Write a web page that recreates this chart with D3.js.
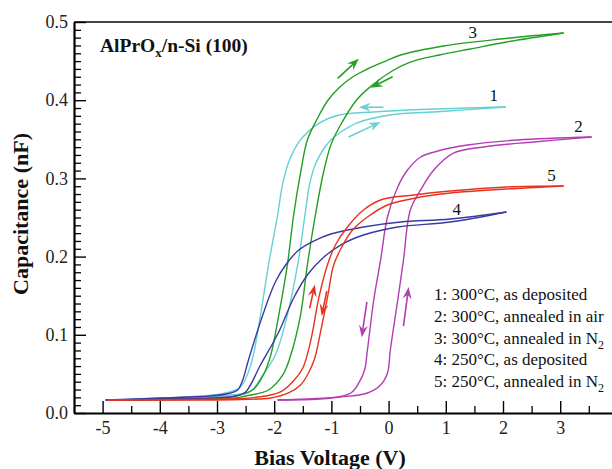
<!DOCTYPE html>
<html><head><meta charset="utf-8">
<script src="https://cdn.jsdelivr.net/npm/d3@7"></script>
<style>html,body{margin:0;padding:0;background:#fff;overflow:hidden}</style>
</head><body><svg id="chart" width="612" height="469"></svg>
<script>
// ---------- data ----------
const xTicks = [-5, -4, -3, -2, -1, 0, 1, 2, 3, 4];
const xTickLabels = ["-5", "-4", "-3", "-2", "-1", "0", "1", "2", "3", "4"];
const yTicks = [0, 0.1, 0.2, 0.3, 0.4, 0.5];
const yTickLabels = ["0.0", "0.1", "0.2", "0.3", "0.4", "0.5"];

const seriesIds = ["1", "2", "3", "4", "5"];
const legendMain = ["1: 300°C, as deposited", "2: 300°C, annealed in air", "3: 300°C, annealed in N", "4: 250°C, as deposited", "5: 250°C, annealed in N"];
const legendSub = ["", "", "2", "", "2"];

// Capacitance (nF) vs bias (V); each sample is measured as two sweep branches
const s1BranchA = [[-4.72,0.0166],[-3.99,0.0192],[-3.29,0.0217],[-2.85,0.0256],[-2.59,0.0332],[-2.41,0.0614],[-2.24,0.1253],[-2.10,0.1893],[-1.94,0.2532],[-1.86,0.2900],[-1.76,0.3180],[-1.64,0.3380],[-1.50,0.3529],[-1.21,0.3708],[-0.86,0.3811],[-0.26,0.3849],[0.56,0.3881],[2.05,0.3913]];
const s1BranchB = [[-4.72,0.0166],[-3.64,0.0192],[-2.76,0.0230],[-2.41,0.0281],[-2.20,0.0486],[-1.98,0.0742],[-1.77,0.1253],[-1.59,0.1893],[-1.45,0.2596],[-1.38,0.2930],[-1.28,0.3180],[-1.15,0.3360],[-1.01,0.3491],[-0.86,0.3581],[-0.56,0.3708],[0.02,0.3811],[0.91,0.3855],[2.05,0.3913]];

const s2BranchA = [[-1.94,0.0166],[-1.01,0.0192],[-0.66,0.0256],[-0.52,0.0384],[-0.42,0.0550],[-0.37,0.0806],[-0.26,0.1445],[-0.14,0.1957],[-0.02,0.2506],[0.16,0.2890],[0.33,0.3107],[0.56,0.3274],[0.86,0.3350],[1.38,0.3427],[2.26,0.3491],[3.55,0.3529]];
const s2BranchB = [[-1.94,0.0166],[-0.84,0.0205],[-0.37,0.0256],[-0.14,0.0358],[-0.02,0.0512],[0.03,0.0806],[0.16,0.1445],[0.26,0.1957],[0.38,0.2596],[0.56,0.2852],[0.79,0.3107],[1.14,0.3325],[1.66,0.3402],[2.53,0.3466],[3.55,0.3529]];

const s3BranchA = [[-4.74,0.0166],[-3.64,0.0179],[-2.76,0.0205],[-2.38,0.0294],[-2.19,0.0486],[-2.06,0.0742],[-1.92,0.1253],[-1.77,0.1893],[-1.66,0.2532],[-1.54,0.3069],[-1.42,0.3491],[-1.24,0.3772],[-1.07,0.3990],[-0.87,0.4156],[-0.63,0.4297],[-0.37,0.4399],[-0.05,0.4501],[0.21,0.4578],[0.96,0.4693],[1.96,0.4783],[3.06,0.4859]];
const s3BranchB = [[-4.74,0.0166],[-3.64,0.0173],[-2.76,0.0185],[-2.50,0.0217],[-2.10,0.0294],[-1.85,0.0486],[-1.71,0.0742],[-1.54,0.1253],[-1.42,0.1893],[-1.28,0.2532],[-1.14,0.3069],[-1.01,0.3427],[-0.86,0.3657],[-0.56,0.4003],[-0.26,0.4207],[0.09,0.4386],[0.38,0.4488],[0.89,0.4578],[1.43,0.4655],[2.06,0.4744],[3.06,0.4859]];

const s4BranchA = [[-4.95,0.0166],[-3.99,0.0192],[-3.11,0.0217],[-2.76,0.0256],[-2.64,0.0294],[-2.55,0.0422],[-2.45,0.0678],[-2.20,0.1253],[-1.98,0.1675],[-1.80,0.1893],[-1.57,0.2084],[-1.31,0.2199],[-1.01,0.2289],[-0.44,0.2379],[0.21,0.2442],[1.08,0.2481],[2.06,0.2570]];
const s4BranchB = [[-4.95,0.0166],[-3.99,0.0179],[-3.11,0.0192],[-2.67,0.0217],[-2.50,0.0269],[-2.24,0.0614],[-1.92,0.1036],[-1.66,0.1471],[-1.42,0.1765],[-1.15,0.1982],[-0.84,0.2148],[-0.44,0.2276],[0.16,0.2379],[1.08,0.2442],[2.06,0.2570]];

const s5BranchA = [[-4.91,0.0166],[-3.64,0.0173],[-2.59,0.0185],[-2.15,0.0217],[-1.89,0.0269],[-1.68,0.0396],[-1.50,0.0575],[-1.40,0.0806],[-1.33,0.1036],[-1.22,0.1471],[-1.07,0.1893],[-0.93,0.2148],[-0.72,0.2379],[-0.44,0.2596],[-0.14,0.2724],[0.44,0.2788],[1.08,0.2839],[2.06,0.2890],[3.06,0.2903]];
const s5BranchB = [[-4.91,0.0166],[-3.64,0.0166],[-2.59,0.0173],[-2.06,0.0192],[-1.75,0.0256],[-1.54,0.0358],[-1.40,0.0512],[-1.29,0.0703],[-1.19,0.1036],[-1.07,0.1471],[-0.96,0.1893],[-0.80,0.2148],[-0.63,0.2340],[-0.37,0.2506],[-0.02,0.2660],[0.56,0.2762],[1.08,0.2813],[2.06,0.2864],[3.06,0.2903]];

// sweep-direction arrows [seriesIndex, V0, C0, V1, C1] (tail -> head)
const sweepArrows = [
  [2, -0.89, 0.428, -0.52, 0.453],
  [2, 0.07, 0.430, -0.31, 0.416],
  [0, -0.09, 0.391, -0.52, 0.391],
  [0, -0.70, 0.353, -0.14, 0.372],
  [4, -1.38, 0.134, -1.29, 0.164],
  [4, -1.08, 0.156, -1.17, 0.124],
  [1, -0.38, 0.142, -0.47, 0.097],
  [1, 0.26, 0.111, 0.35, 0.161]
];
// curve number labels [V, C]
const curveLabelPos = [[1.84, 0.399], [3.32, 0.359], [1.47, 0.480], [1.19, 0.253], [2.85, 0.297]];

// ---------- styles ----------
const seriesColors = ["#66d0d2", "#b43cb4", "#22a022", "#3a3aa2", "#e8321e"];
const serif = "'Liberation Serif','Times New Roman',Times,serif";

const svg = d3.select("#chart");
svg.append("rect").attr("width", 612).attr("height", 469).attr("fill", "#fff");

const x = d3.scaleLinear().domain([-5.5, 4.5]).range([74, 646]);
const y = d3.scaleLinear().domain([0, 0.5]).range([413, 22]);

// frame top
svg.append("line").attr("x1", x(-5.5)).attr("x2", x(4.5)).attr("y1", y(0.5)).attr("y2", y(0.5))
  .attr("stroke", "#444").attr("stroke-width", 2);

// minor ticks
const xMinor = d3.range(-5.5, 4.51, 0.5).filter(v => Math.abs(v - Math.round(v)) > 0.1);
svg.append("g").attr("transform", `translate(0,${y(0)})`)
  .call(d3.axisBottom(x).tickValues(xMinor).tickSizeInner(-7).tickSizeOuter(0).tickFormat(""))
  .call(g => g.select(".domain").remove())
  .call(g => g.selectAll("line").attr("stroke", "#000").attr("stroke-width", 1.3));
const yMinor = d3.range(0, 51).map(i => i / 100).filter(v => Math.abs(v * 10 - Math.round(v * 10)) > 0.01);
svg.append("g").attr("transform", `translate(${x(-5.5)},0)`)
  .call(d3.axisLeft(y).tickValues(yMinor).tickSizeInner(-7).tickSizeOuter(0).tickFormat(""))
  .call(g => g.select(".domain").remove())
  .call(g => g.selectAll("line").attr("stroke", "#000").attr("stroke-width", 1.3));

// major axes
const xAxis = svg.append("g").attr("transform", `translate(0,${y(0)})`)
  .call(d3.axisBottom(x).tickValues(xTicks).tickSizeInner(-12).tickSizeOuter(0).tickPadding(8)
    .tickFormat((d, i) => xTickLabels[i]));
xAxis.select(".domain").attr("stroke", "#000").attr("stroke-width", 2.2);
xAxis.selectAll("line").attr("stroke", "#000").attr("stroke-width", 1.4);
xAxis.selectAll("text").attr("font-family", serif).attr("font-size", 18).attr("fill", "#222");

const yAxis = svg.append("g").attr("transform", `translate(${x(-5.5)},0)`)
  .call(d3.axisLeft(y).tickValues(yTicks).tickSizeInner(-12).tickSizeOuter(0).tickPadding(6)
    .tickFormat((d, i) => yTickLabels[i]));
yAxis.select(".domain").attr("stroke", "#000").attr("stroke-width", 2.2);
yAxis.selectAll("line").attr("stroke", "#000").attr("stroke-width", 1.4);
yAxis.selectAll("text").attr("font-family", serif).attr("font-size", 18).attr("fill", "#222");

// curves
const branches = [[s1BranchA, s1BranchB], [s2BranchA, s2BranchB], [s3BranchA, s3BranchB], [s4BranchA, s4BranchB], [s5BranchA, s5BranchB]];
const line = d3.line().x(d => x(d[0])).y(d => y(d[1])).curve(d3.curveCatmullRom.alpha(0.5));
branches.forEach((pair, i) => {
  pair.forEach(b => {
    svg.append("path").attr("d", line(b)).attr("fill", "none")
      .attr("stroke", seriesColors[i]).attr("stroke-width", 1.4);
  });
});

// arrows
sweepArrows.forEach(a => {
  const col = seriesColors[a[0]];
  const x0 = x(a[1]), y0 = y(a[2]), x1 = x(a[3]), y1 = y(a[4]);
  const dx = x1 - x0, dy = y1 - y0, len = Math.hypot(dx, dy);
  const ux = dx / len, uy = dy / len, nx = -uy, ny = ux;
  const L = 12, W = 9;
  const bx = x1 - ux * L, by = y1 - uy * L;
  const mx = x1 - ux * L * 0.65, my = y1 - uy * L * 0.65;
  svg.append("line").attr("x1", x0).attr("y1", y0).attr("x2", mx).attr("y2", my)
    .attr("stroke", col).attr("stroke-width", 1.6);
  svg.append("path")
    .attr("d", `M${x1},${y1}L${bx + nx * W / 2},${by + ny * W / 2}L${mx},${my}L${bx - nx * W / 2},${by - ny * W / 2}Z`)
    .attr("fill", col);
});

// curve labels
curveLabelPos.forEach((p, i) => {
  svg.append("text").attr("x", x(p[0])).attr("y", y(p[1])).attr("text-anchor", "middle")
    .attr("font-family", serif).attr("font-size", 17).attr("fill", "#111").text(seriesIds[i]);
});

// title
const title = svg.append("text").attr("x", 100).attr("y", 52)
  .attr("font-family", serif).attr("font-size", 19.5).attr("font-weight", "bold").attr("fill", "#111");
title.append("tspan").text("AlPrO");
title.append("tspan").attr("dy", 5).attr("font-size", 13).text("x");
title.append("tspan").attr("dy", -5).text("/n-Si (100)");

// legend
legendMain.forEach((t, i) => {
  const tx = svg.append("text").attr("x", 434).attr("y", 300 + i * 21.8)
    .attr("font-family", serif).attr("font-size", 17).attr("fill", "#111");
  tx.append("tspan").text(t);
  if (legendSub[i]) tx.append("tspan").attr("dy", 5).attr("font-size", 12).text(legendSub[i]);
});

// axis titles
svg.append("text").attr("transform", "translate(28,214) rotate(-90)").attr("text-anchor", "middle")
  .attr("font-family", serif).attr("font-size", 22).attr("font-weight", "bold").attr("fill", "#111")
  .text("Capacitance (nF)");
svg.append("text").attr("x", 330).attr("y", 465).attr("text-anchor", "middle")
  .attr("font-family", serif).attr("font-size", 22).attr("font-weight", "bold").attr("fill", "#111")
  .text("Bias Voltage (V)");
</script></body></html>
